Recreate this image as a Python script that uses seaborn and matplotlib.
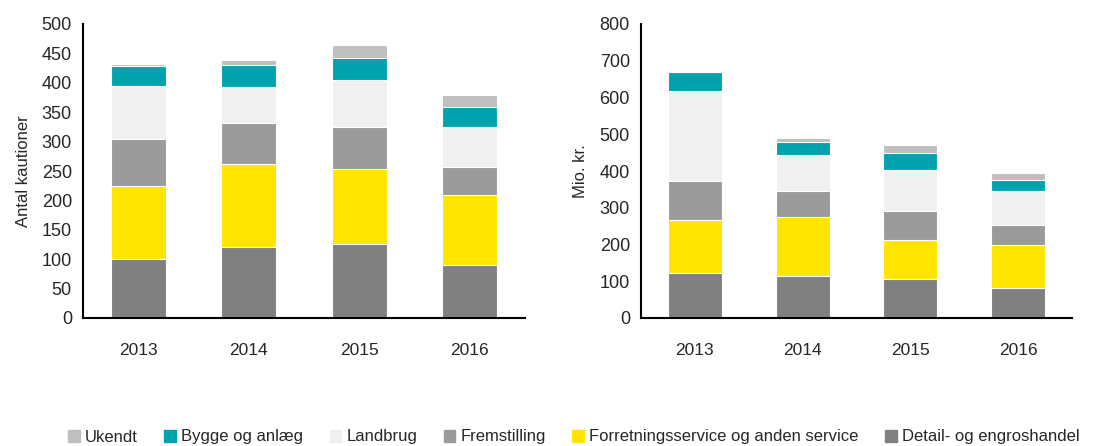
import numpy as np
import pandas as pd
import seaborn as sns
import matplotlib.pyplot as plt
from matplotlib.patches import Patch

years = ['2013', '2014', '2015', '2016']
sectors = ['Ukendt', 'Bygge og anlæg', 'Landbrug', 'Fremstilling',
           'Forretningsservice og anden service', 'Detail- og engroshandel']
colors = ['#BFBFBF', '#00A3AD', '#F0F0F0', '#9B9B9B', '#FFE500', '#808080']

# antal kautioner
antal_detail = [100, 120, 126, 90]
antal_forr = [125, 142, 128, 119]
antal_frem = [80, 70, 70, 47]
antal_land = [89, 61, 80, 69]
antal_bygge = [35, 37, 39, 33]
antal_ukendt = [3, 9, 21, 22]

# mio. kr.
mio_detail = [123, 115, 106, 82]
mio_forr = [143, 160, 106, 118]
mio_frem = [108, 70, 78, 54]
mio_land = [243, 98, 114, 91]
mio_bygge = [53, 37, 46, 31]
mio_ukendt = [0, 10, 20, 19]

sns.set_style('white')
plt.rcParams['font.family'] = ['Liberation Sans', 'DejaVu Sans']
plt.rcParams['font.size'] = 12.5


def stacked(ax, layers, ylim, step, ylabel):
    # layers from bottom to top; draw cumulative totals tallest first
    df = pd.DataFrame({'year': years})
    cum = np.zeros(len(years))
    cols = []
    for name, vals in layers:
        cum = cum + np.array(vals)
        df[name] = cum
        cols.append(name)
    for name in reversed(cols):
        sns.barplot(data=df, x='year', y=name, color=colors[sectors.index(name)],
                    width=0.5, saturation=1, edgecolor='white', linewidth=0.8, ax=ax)
    ax.set_xlim(-0.5, 3.5)
    ax.set_ylim(0, ylim)
    ax.set_yticks(np.arange(0, ylim + 1, step))
    ax.set_xticks(range(len(years)))
    ax.set_xticklabels(years)
    ax.set_xticks(np.arange(-0.5, 4, 1), minor=True)
    ax.tick_params(axis='x', which='major', length=0, pad=18, labelsize=12.5)
    ax.tick_params(axis='x', which='minor', length=6, width=1.5, color='black', direction='out')
    ax.tick_params(axis='y', length=6, width=1.5, color='black', direction='out', pad=2, labelsize=13)
    ax.set_xlabel('')
    ax.set_ylabel(ylabel, fontsize=12, labelpad=8)
    for s in ['top', 'right']:
        ax.spines[s].set_visible(False)
    for s in ['left', 'bottom']:
        ax.spines[s].set_color('black')
        ax.spines[s].set_linewidth(1.5)


fig = plt.figure(figsize=(10.97, 4.46), dpi=100)
ax1 = fig.add_axes([83 / 1097, 1 - 318 / 446, 442 / 1097, 294 / 446])
ax2 = fig.add_axes([641 / 1097, 1 - 318 / 446, 431 / 1097, 294 / 446])

stacked(ax1, [('Detail- og engroshandel', antal_detail),
              ('Forretningsservice og anden service', antal_forr),
              ('Fremstilling', antal_frem),
              ('Landbrug', antal_land),
              ('Bygge og anlæg', antal_bygge),
              ('Ukendt', antal_ukendt)], 500, 50, 'Antal kautioner')
stacked(ax2, [('Detail- og engroshandel', mio_detail),
              ('Forretningsservice og anden service', mio_forr),
              ('Fremstilling', mio_frem),
              ('Landbrug', mio_land),
              ('Bygge og anlæg', mio_bygge),
              ('Ukendt', mio_ukendt)], 800, 100, 'Mio. kr.')

handles = [Patch(color=c, label=s) for s, c in zip(sectors, colors)]
fig.legend(handles=handles, loc='center', bbox_to_anchor=(0.523, 1 - 437 / 446),
           ncol=6, frameon=False, handlelength=0.7, handleheight=0.7,
           handletextpad=0.3, columnspacing=1.6, fontsize=12)

plt.savefig('out.png', dpi=100)
